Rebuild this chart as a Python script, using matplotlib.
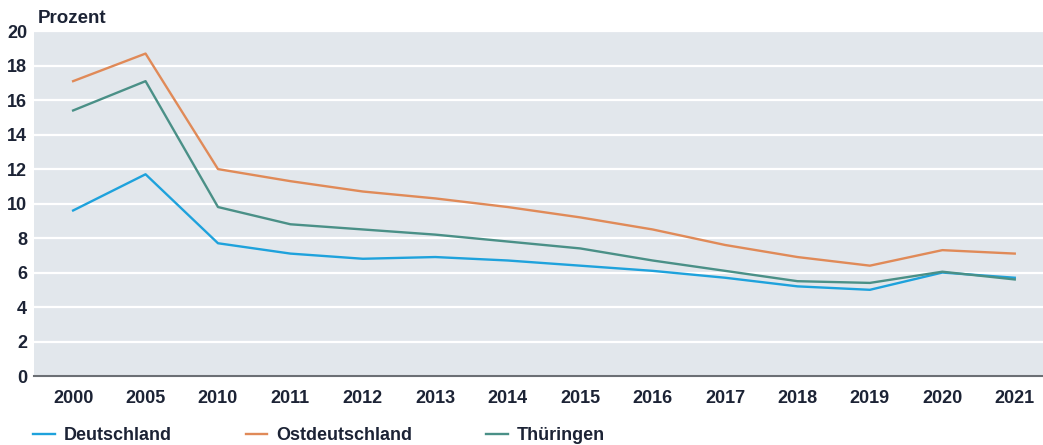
import matplotlib
matplotlib.use("Agg")
import matplotlib.pyplot as plt

years = ["2000", "2005", "2010", "2011", "2012", "2013", "2014",
         "2015", "2016", "2017", "2018", "2019", "2020", "2021"]
deutschland = [9.6, 11.7, 7.7, 7.1, 6.8, 6.9, 6.7, 6.4, 6.1, 5.7, 5.2, 5.0, 6.0, 5.7]
ostdeutschland = [17.1, 18.7, 12.0, 11.3, 10.7, 10.3, 9.8, 9.2, 8.5, 7.6, 6.9, 6.4, 7.3, 7.1]
thueringen = [15.4, 17.1, 9.8, 8.8, 8.5, 8.2, 7.8, 7.4, 6.7, 6.1, 5.5, 5.4, 6.05, 5.6]

plt.rcParams['font.family'] = ['Liberation Sans', 'DejaVu Sans']
txt_col = '#1c2335'

fig = plt.figure(figsize=(10.43, 4.45), dpi=100)
ax = fig.add_axes([0.0326, 0.155, 0.9674, 0.775])
ax.set_facecolor('#e2e7ec')

x = range(len(years))
ax.plot(x, deutschland, color='#1ea2dc', lw=1.7, label='Deutschland')
ax.plot(x, ostdeutschland, color='#e08a58', lw=1.7, label='Ostdeutschland')
ax.plot(x, thueringen, color='#4a9087', lw=1.7, label='Thüringen')

ax.set_ylim(0, 20)
ax.set_xlim(-0.54, 13.39)
ax.set_yticks(range(0, 21, 2))
ax.set_xticks(list(x))
ax.set_xticklabels(years)
ax.grid(axis='y', color='white', lw=1.6)
ax.set_axisbelow(True)
for s in ['top', 'right', 'left']:
    ax.spines[s].set_visible(False)
ax.spines['bottom'].set_color('#6b6f74')
ax.spines['bottom'].set_linewidth(1.5)
ax.tick_params(length=0, labelsize=13, labelcolor=txt_col)
ax.tick_params(axis='x', pad=10)
ax.tick_params(axis='y', pad=5)
for lbl in ax.get_xticklabels() + ax.get_yticklabels():
    lbl.set_fontweight('bold')

fig.text(0.036, 0.948, 'Prozent', fontsize=13.5, color=txt_col, fontweight='bold')

fig.legend(loc='lower left', bbox_to_anchor=(0.016, -0.035), ncol=3, frameon=False,
           handlelength=1.2, handletextpad=0.5, columnspacing=4.1,
           labelcolor=txt_col, prop={'weight': 'bold', 'size': 13})

fig.savefig('out.png', dpi=100)
